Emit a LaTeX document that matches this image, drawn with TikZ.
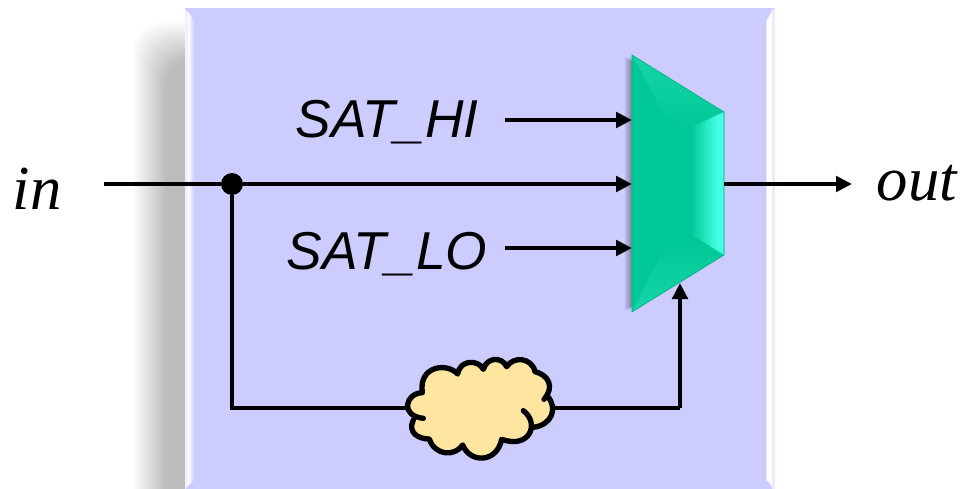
\documentclass[tikz,border=0pt]{standalone}
\usepackage{fontspec}
\setmainfont{Liberation Serif}
\setsansfont{Liberation Sans}
\usepackage{xcolor}
\usetikzlibrary{arrows.meta}
\definecolor{pannello}{RGB}{204,204,255}
\definecolor{muxbase}{RGB}{0,200,150}
\definecolor{muxchiaro}{RGB}{22,212,168}
\definecolor{muxciano}{RGB}{70,255,228}
\definecolor{nuvola}{RGB}{255,230,160}
\pgfdeclarehorizontalshading{muxlato}{100bp}{color(0bp)=(muxbase); color(37bp)=(muxbase); color(68bp)=(muxciano); color(100bp)=(muxciano)}
\tikzset{
    filo/.style = {line width = 3pt},
    freccia/.style = {filo, -{Triangle[length = 12pt, width = 11.5pt]}},
    segnale/.style = {font = \fontsize{40}{43}\selectfont\sffamily\itshape, inner sep = 0pt},
    porta/.style = {font = \fontsize{47}{50}\selectfont\itshape, inner sep = 0pt},
    bordo/.style = {line width = 4pt, line cap = round, line join = round}
}
\begin{document}
\begin{tikzpicture}[x = 0.75pt, y = -0.75pt]
    \useasboundingbox (0,0) rectangle (961,489);
    % Ombra del pannello
    \foreach \i in {0,...,34}
        \fill[black, opacity = 0.0088, rounded corners = 22pt] (133+\i,22+1.15*\i) rectangle (300,560);
    % Pannello
    \fill[pannello] (185,8) rectangle (775,489);
    \fill[white!70!pannello] (185,9) -- (188,12) -- (188,486) -- (185,489) -- cycle;
    \shade[left color = white, right color = pannello] (188,12) -- (194,20) -- (194,480) -- (188,486) -- cycle;
    \shade[left color = pannello, right color = white] (765,20) -- (767,20) -- (767,480) -- (765,480) -- cycle;
    \fill[white] (767,20) -- (772,11) -- (772,486) -- (767,480) -- cycle;
    \fill[white!60!pannello] (772,9) rectangle (775,489);
    % Ombra del mux
    \foreach \i in {1,...,5}
        \fill[black, opacity = 0.07] (632-1.5*\i,57) -- (660,80) -- (660,290) -- (632-1.5*\i,310) -- cycle;
    % Mux
    \coordinate (muxA) at (632,55);
    \coordinate (muxB) at (724,112);
    \coordinate (muxC) at (724,255);
    \coordinate (muxD) at (632,312);
    \fill[muxbase] (muxA) -- (muxB) -- (muxC) -- (muxD) -- cycle;
    \shade[top color = muxchiaro, bottom color = muxbase] (muxA) -- (muxB) -- (685,130) -- (662,110) -- cycle;
    \shade[bottom color = muxchiaro, top color = muxbase] (muxD) -- (muxC) -- (697,238) -- (668,240) -- cycle;
    \shade[shading = muxlato] (680,132) -- (muxB) -- (muxC) -- (697,238) -- (680,238) -- cycle;
    \draw[muxbase!85!black, thin] (muxA) -- (muxB) -- (muxC) -- (muxD) -- cycle;
    % Punti di ingresso e uscita
    \coordinate (hi) at (505,120);
    \coordinate (hiMux) at (632,120);
    \coordinate (ingresso) at (104,184);
    \coordinate (inMux) at (632,184);
    \coordinate (lo) at (505,248);
    \coordinate (loMux) at (632,248);
    \coordinate (muxOut) at (724,184);
    \coordinate (uscita) at (852,184);
    \coordinate (selMux) at (680,283);
    \coordinate (angoloA) at (232,408);
    \coordinate (angoloB) at (680,408);
    % Etichette
    \node[porta] (labelIn) at (37,189) {in};
    \node[porta] (labelOut) at (917,183) {out};
    \node[segnale] (labelHi) at (387,122) {SAT\_HI};
    \node[segnale] (labelLo) at (387,254) {SAT\_LO};
    % Collegamenti
    \node[circle, fill = black, inner sep = 0pt, minimum size = 16.5pt] (nodo) at (232,184) {};
    \draw[filo] (ingresso) -- (nodo);
    \draw[freccia] (nodo) -- (inMux);
    \draw[freccia] (hi) -- (hiMux);
    \draw[freccia] (lo) -- (loMux);
    \draw[freccia] (muxOut) -- (uscita);
    \draw[filo] (nodo) -- (angoloA) -- (angoloB);
    \draw[freccia] (angoloB) -- (selMux);
    % Nuvola
    \begin{scope}[shift = {(390,340)}, x = 0.25pt, y = -0.25pt]
        \fill[nuvola] (100,235) -- (70,240) .. controls (52,278) and (85,297) .. (118,297)
            .. controls (135,348) and (195,350) .. (218,315)
            .. controls (240,370) and (320,370) .. (335,298)
            .. controls (380,320) and (430,300) .. (430,262)
            .. controls (485,255) and (505,205) .. (472,178)
            .. controls (495,140) and (475,105) .. (435,95)
            .. controls (425,52) and (370,48) .. (350,80)
            .. controls (335,48) and (290,52) .. (280,88)
            .. controls (265,58) and (210,58) .. (203,102)
            .. controls (170,66) and (85,78) .. (97,158)
            .. controls (45,160) and (30,228) .. (100,235) -- cycle;
        \draw[bordo] (100,235) .. controls (30,228) and (45,160) .. (97,158)
            .. controls (85,78) and (170,66) .. (203,102)
            .. controls (210,58) and (265,58) .. (280,88)
            .. controls (290,52) and (335,48) .. (350,80)
            .. controls (370,48) and (425,52) .. (435,95)
            .. controls (475,105) and (495,140) .. (462,178);
        \draw[bordo] (472,168) .. controls (505,205) and (485,255) .. (430,262);
        \draw[bordo] (400,212) .. controls (450,250) and (420,328) .. (335,298)
            .. controls (320,370) and (240,370) .. (218,315)
            .. controls (195,350) and (135,348) .. (118,297)
            .. controls (85,297) and (52,278) .. (70,240);
    \end{scope}
\end{tikzpicture}
\end{document}
